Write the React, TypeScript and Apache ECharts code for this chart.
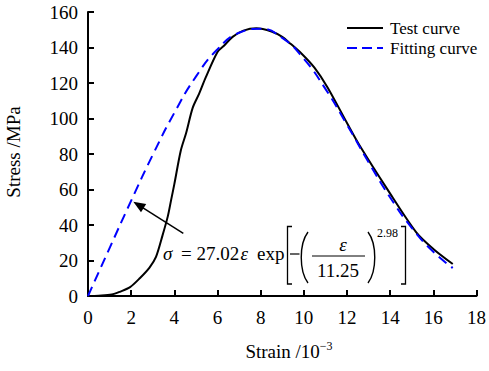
import React, { useEffect, useRef } from "react";
import * as echarts from "echarts";

const testStrain = [0, 0.5, 1.1, 1.5, 1.95, 2.4, 2.85, 3.15, 3.45, 3.7, 3.85, 4.0, 4.3, 4.55, 4.85, 5.15, 5.45, 6.0, 6.3, 6.7, 7.2, 7.8, 8.5, 9.0, 9.3, 9.9, 10.5, 11.1, 12.0, 12.6, 13.85, 15.2, 16.0, 16.9];
const testStress = [0, 0.2, 0.8, 2.5, 5, 10, 16, 22, 34, 45, 54, 63, 82, 92, 106, 114, 123, 137.5, 141, 146, 149.5, 150.8, 149, 146, 143, 136.5, 128.5, 117.5, 97.5, 84.5, 60.5, 36, 26.5, 18];

const fitStrain = [0, 1, 2, 3, 4, 5, 6, 7, 8, 9, 10, 11, 12, 13, 14, 15, 16, 16.9];
const fitStress = [0, 27.0, 53.7, 79.5, 103.2, 123.6, 139.0, 148.3, 150.5, 145.4, 133.6, 116.7, 96.5, 75.4, 55.5, 38.4, 24.9, 15.8];

const legendNames = ["Test curve", "Fitting curve"];
const xTicks = { min: 0, max: 18, interval: 2 };
const yTicks = { min: 0, max: 160, interval: 20 };

const FONT = "Liberation Serif";

export default function App() {
  const ref = useRef<HTMLDivElement>(null);
  useEffect(() => {
    if (!ref.current) return;
    const chart = echarts.init(ref.current, undefined, { renderer: "svg" });
    const axisCommon = {
      axisLine: { show: true, lineStyle: { color: "#000", width: 2 } },
      axisTick: { show: true, inside: true, length: 6, lineStyle: { color: "#000", width: 2 } },
      axisLabel: { color: "#000", fontSize: 19, fontFamily: FONT },
      splitLine: { show: false },
    };
    const txt = (x: number, y: number, text: string, size: number, extra: any = {}) => ({
      type: "text",
      x,
      y,
      style: { text, fontSize: size, fontFamily: FONT, fill: "#000", verticalAlign: "middle", ...extra },
      silent: true,
    });
    chart.setOption({
      animation: false,
      backgroundColor: "#fff",
      textStyle: { fontFamily: FONT },
      grid: { left: 88, right: 10, top: 12, bottom: 75, containLabel: false },
      xAxis: {
        type: "value",
        ...xTicks,
        ...axisCommon,
        axisLabel: { ...axisCommon.axisLabel, margin: 12 },
      },
      yAxis: {
        type: "value",
        ...yTicks,
        ...axisCommon,
        axisLabel: { ...axisCommon.axisLabel, margin: 10 },
      },
      series: [
        {
          name: legendNames[0],
          type: "line",
          data: testStrain.map((x, i) => [x, testStress[i]]),
          symbol: "none",
          smooth: 0.3,
          lineStyle: { color: "#000", width: 2 },
          itemStyle: { color: "#000" },
        },
        {
          name: legendNames[1],
          type: "line",
          data: fitStrain.map((x, i) => [x, fitStress[i]]),
          symbol: "none",
          smooth: true,
          lineStyle: { color: "#0000ff", width: 2, type: [10, 6] },
          itemStyle: { color: "#0000ff" },
        },
      ],
      graphic: [
        // legend
        { type: "line", shape: { x1: 347, y1: 28, x2: 383, y2: 28 }, style: { stroke: "#000", lineWidth: 2 } },
        { type: "line", shape: { x1: 347, y1: 48, x2: 383, y2: 48 }, style: { stroke: "#0000ff", lineWidth: 2, lineDash: [10, 5] } },
        txt(390, 28, legendNames[0], 17),
        txt(390, 48, legendNames[1], 17),
        // axis titles
        {
          type: "text",
          x: 289,
          y: 351,
          style: {
            text: "Strain /10{sup|−3}",
            fontSize: 19,
            fontFamily: FONT,
            fill: "#000",
            align: "center",
            verticalAlign: "middle",
            rich: { sup: { fontSize: 12, fontFamily: FONT, verticalAlign: "top", padding: [0, 0, 10, 0] } },
          },
        },
        {
          type: "text",
          x: 13,
          y: 152,
          rotation: Math.PI / 2,
          style: { text: "Stress /MPa", fontSize: 19, fontFamily: FONT, fill: "#000", align: "center", verticalAlign: "middle" },
        },
        // formula
        txt(163, 253, "σ", 19, { fontStyle: "italic" }),
        txt(181, 253, "=", 19),
        txt(196.5, 253, "27.02", 19),
        txt(240.5, 253, "ε", 19, { fontStyle: "italic" }),
        txt(257, 253, "exp", 19),
        { type: "polyline", shape: { points: [[292, 226.5], [287.5, 226.5], [287.5, 284], [292, 284]] }, style: { stroke: "#000", lineWidth: 1.3, fill: null } },
        { type: "polyline", shape: { points: [[401, 226.5], [405.5, 226.5], [405.5, 284], [401, 284]] }, style: { stroke: "#000", lineWidth: 1.3, fill: null } },
        { type: "line", shape: { x1: 290, y1: 254, x2: 299.5, y2: 254 }, style: { stroke: "#000", lineWidth: 1.2 } },
        { type: "bezierCurve", shape: { x1: 308, y1: 232, cpx1: 299, cpy1: 244, cpx2: 299, cpy2: 271, x2: 308, y2: 283 }, style: { stroke: "#000", lineWidth: 1.4, fill: null } },
        { type: "bezierCurve", shape: { x1: 368, y1: 232, cpx1: 377, cpy1: 244, cpx2: 377, cpy2: 271, x2: 368, y2: 283 }, style: { stroke: "#000", lineWidth: 1.4, fill: null } },
        txt(343, 244, "ε", 19, { fontStyle: "italic", align: "center" }),
        { type: "line", shape: { x1: 312, y1: 256, x2: 365, y2: 256 }, style: { stroke: "#000", lineWidth: 1 } },
        txt(338, 270, "11.25", 19, { align: "center" }),
        txt(377, 233, "2.98", 12),
        // arrow
        { type: "line", shape: { x1: 183.3, y1: 233.3, x2: 143, y2: 207.8 }, style: { stroke: "#000", lineWidth: 1.5 } },
        { type: "polygon", shape: { points: [[133.3, 201.7], [146.2, 204.0], [141.0, 212.2]] }, style: { fill: "#000" } },
      ],
    });
    return () => chart.dispose();
  }, []);
  return <div ref={ref} style={{ position: "fixed", left: 0, top: 0, width: 489, height: 371 }} />;
}
